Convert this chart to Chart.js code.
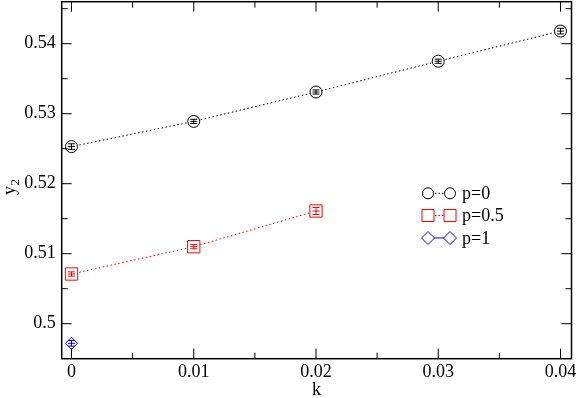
<!DOCTYPE html>
<html>
<head>
<meta charset="utf-8">
<script src="https://cdn.jsdelivr.net/npm/chart.js@4/dist/chart.umd.min.js"></script>
<style>
  html, body { margin: 0; padding: 0; background: #fff; }
  #c { display: block; }
</style>
</head>
<body>
<canvas id="c" width="577" height="398"></canvas>
<script>
// ---- data ----
const kP0 = [0, 0.01, 0.02, 0.03, 0.04];
const yP0 = [0.5253, 0.5289, 0.5331, 0.5375, 0.5418];
const eP0 = [0.0004, 0.0003, 0.0003, 0.0003, 0.0004];

const kP05 = [0, 0.01, 0.02];
const yP05 = [0.5071, 0.5110, 0.5161];
const eP05 = [0.0003, 0.0003, 0.0005];

const kP1 = [0];
const yP1 = [0.4972];
const eP1 = [0.0004];

const seriesNames = ['p=0', 'p=0.5', 'p=1'];
const seriesColors = ['#000000', '#ff0000', '#0000ff'];

const xTicks = [0, 0.01, 0.02, 0.03, 0.04];
const xMinor = [0.005, 0.015, 0.025, 0.035];
const yTicks = [0.5, 0.51, 0.52, 0.53, 0.54];
const yMinor = [0.505, 0.515, 0.525, 0.535, 0.545];

const FONT = '"Liberation Serif", "Times New Roman", serif';
const AREA = { left: 61.7, top: 1.7, right: 571.5, bottom: 358.7 };

function pts(xs, ys) { return xs.map((x, i) => ({ x: x, y: ys[i] })); }
const errs = [eP0, eP05, eP1];

const fmt = v => String(Number(Number(v).toFixed(4)));

const areaPlugin = {
  id: 'fixedArea',
  afterLayout(chart) {
    const a = chart.chartArea;
    a.left = AREA.left; a.top = AREA.top; a.right = AREA.right; a.bottom = AREA.bottom;
    a.width = AREA.right - AREA.left; a.height = AREA.bottom - AREA.top;
    const xs = chart.scales.x, ys = chart.scales.y;
    xs.left = AREA.left; xs.right = AREA.right; xs.width = a.width;
    xs.top = AREA.bottom; xs.bottom = chart.height; xs.height = chart.height - AREA.bottom;
    xs.configure();
    ys.top = AREA.top; ys.bottom = AREA.bottom; ys.height = a.height;
    ys.left = 0; ys.right = AREA.left; ys.width = AREA.left;
    ys.configure();
  }
};

const framePlugin = {
  id: 'frame',
  afterDatasetsDraw(chart) {
    const ctx = chart.ctx;
    chart.data.datasets.forEach((ds, di) => {
      const meta = chart.getDatasetMeta(di);
      const ys = chart.scales.y;
      ctx.save();
      ctx.strokeStyle = seriesColors[di];
      ctx.lineWidth = 1;
      meta.data.forEach((el, i) => {
        const e = errs[di][i];
        const v = ds.data[i].y;
        const x = el.x;
        const y1 = ys.getPixelForValue(v + e);
        const y2 = ys.getPixelForValue(v - e);
        ctx.beginPath();
        ctx.moveTo(x, y1); ctx.lineTo(x, y2);
        ctx.moveTo(x - 3.5, y1); ctx.lineTo(x + 3.5, y1);
        ctx.moveTo(x - 3.5, y2); ctx.lineTo(x + 3.5, y2);
        ctx.moveTo(x - 3.5, el.y); ctx.lineTo(x + 3.5, el.y);
        ctx.stroke();
      });
      ctx.restore();
    });
  },
  afterDraw(chart) {
    const ctx = chart.ctx;
    const a = chart.chartArea;
    const xs = chart.scales.x, ys = chart.scales.y;
    ctx.save();
    ctx.strokeStyle = '#000';
    ctx.lineWidth = 1.5;
    ctx.strokeRect(a.left, a.top, a.right - a.left, a.bottom - a.top);
    ctx.lineWidth = 1;
    ctx.beginPath();
    const xt = (v, len) => {
      const p = xs.getPixelForValue(v);
      ctx.moveTo(p, a.bottom); ctx.lineTo(p, a.bottom - len);
      ctx.moveTo(p, a.top); ctx.lineTo(p, a.top + len);
    };
    const yt = (v, len) => {
      const p = ys.getPixelForValue(v);
      ctx.moveTo(a.left, p); ctx.lineTo(a.left + len, p);
      ctx.moveTo(a.right, p); ctx.lineTo(a.right - len, p);
    };
    xTicks.forEach(v => xt(v, 10));
    xMinor.forEach(v => xt(v, 6));
    yTicks.forEach(v => yt(v, 10));
    yMinor.forEach(v => yt(v, 6));
    ctx.stroke();

    // axis titles
    ctx.fillStyle = '#000';
    ctx.font = '18px ' + FONT;
    ctx.textAlign = 'center';
    ctx.textBaseline = 'alphabetic';
    ctx.fillText('k', (a.left + a.right) / 2, 395);

    ctx.save();
    ctx.translate(15, (a.top + a.bottom) / 2 + 7);
    ctx.rotate(-Math.PI / 2);
    ctx.textAlign = 'left';
    ctx.font = '18px ' + FONT;
    const wy = ctx.measureText('y').width;
    ctx.font = '13px ' + FONT;
    const w2 = ctx.measureText('2').width;
    const start = -(wy + w2) / 2;
    ctx.font = '18px ' + FONT;
    ctx.fillText('y', start, 0);
    ctx.font = '13px ' + FONT;
    ctx.fillText('2', start + wy + 0.5, 4);
    ctx.restore();

    // legend
    const rows = [193.3, 215.5, 238];
    const x1 = 428, x2 = 450, tx = 462;
    rows.forEach((ry, i) => {
      const col = seriesColors[i];
      ctx.strokeStyle = col;
      ctx.lineWidth = 1;
      ctx.setLineDash(i < 2 ? [1.5, 2] : []);
      ctx.beginPath();
      ctx.moveTo(x1, ry); ctx.lineTo(x2, ry);
      ctx.stroke();
      ctx.setLineDash([]);
      [x1, x2].forEach(mx => {
        ctx.beginPath();
        if (i === 0) {
          ctx.arc(mx, ry, 5.5, 0, Math.PI * 2);
        } else if (i === 1) {
          ctx.rect(mx - 6, ry - 6, 12, 12);
        } else {
          ctx.moveTo(mx - 6.5, ry); ctx.lineTo(mx, ry - 6.5);
          ctx.lineTo(mx + 6.5, ry); ctx.lineTo(mx, ry + 6.5);
          ctx.closePath();
        }
        ctx.fillStyle = '#fff';
        ctx.fill();
        ctx.stroke();
      });
      ctx.fillStyle = '#000';
      ctx.font = '18px ' + FONT;
      ctx.textAlign = 'left';
      ctx.textBaseline = 'middle';
      ctx.fillText(seriesNames[i], tx, ry + 1);
    });
    ctx.restore();
  }
};

const mkDs = (label, data, color, style, radius, dash) => ({
  label: label,
  data: data,
  showLine: true,
  borderColor: color,
  borderWidth: 1,
  borderDash: dash,
  pointStyle: style,
  pointRadius: radius,
  pointHoverRadius: radius,
  pointBorderColor: color,
  pointBackgroundColor: '#ffffff',
  pointBorderWidth: 1,
  fill: false,
  tension: 0
});

new Chart(document.getElementById('c'), {
  type: 'scatter',
  data: {
    datasets: [
      mkDs(seriesNames[0], pts(kP0, yP0), seriesColors[0], 'circle', 6, [1.5, 2.5]),
      mkDs(seriesNames[1], pts(kP05, yP05), seriesColors[1], 'rect', 8.7, [1.5, 2.5]),
      mkDs(seriesNames[2], pts(kP1, yP1), seriesColors[2], 'rectRot', 6, [])
    ]
  },
  options: {
    responsive: false,
    animation: false,
    devicePixelRatio: 1,
    layout: { padding: 0 },
    plugins: { legend: { display: false }, tooltip: { enabled: false } },
    scales: {
      x: {
        type: 'linear',
        min: -0.0008,
        max: 0.0409,
        grid: { display: false, drawTicks: false },
        border: { display: false },
        ticks: {
          color: '#000',
          font: { family: FONT, size: 18 },
          padding: 3,
          maxRotation: 0,
          autoSkip: false,
          callback: v => fmt(v)
        },
        afterBuildTicks: s => { s.ticks = xTicks.map(v => ({ value: v })); }
      },
      y: {
        type: 'linear',
        min: 0.495,
        max: 0.546,
        grid: { display: false, drawTicks: false },
        border: { display: false },
        ticks: {
          color: '#000',
          font: { family: FONT, size: 18 },
          padding: 6,
          autoSkip: false,
          callback: v => fmt(v)
        },
        afterBuildTicks: s => { s.ticks = yTicks.map(v => ({ value: v })); }
      }
    }
  },
  plugins: [areaPlugin, framePlugin]
});
</script>
</body>
</html>
